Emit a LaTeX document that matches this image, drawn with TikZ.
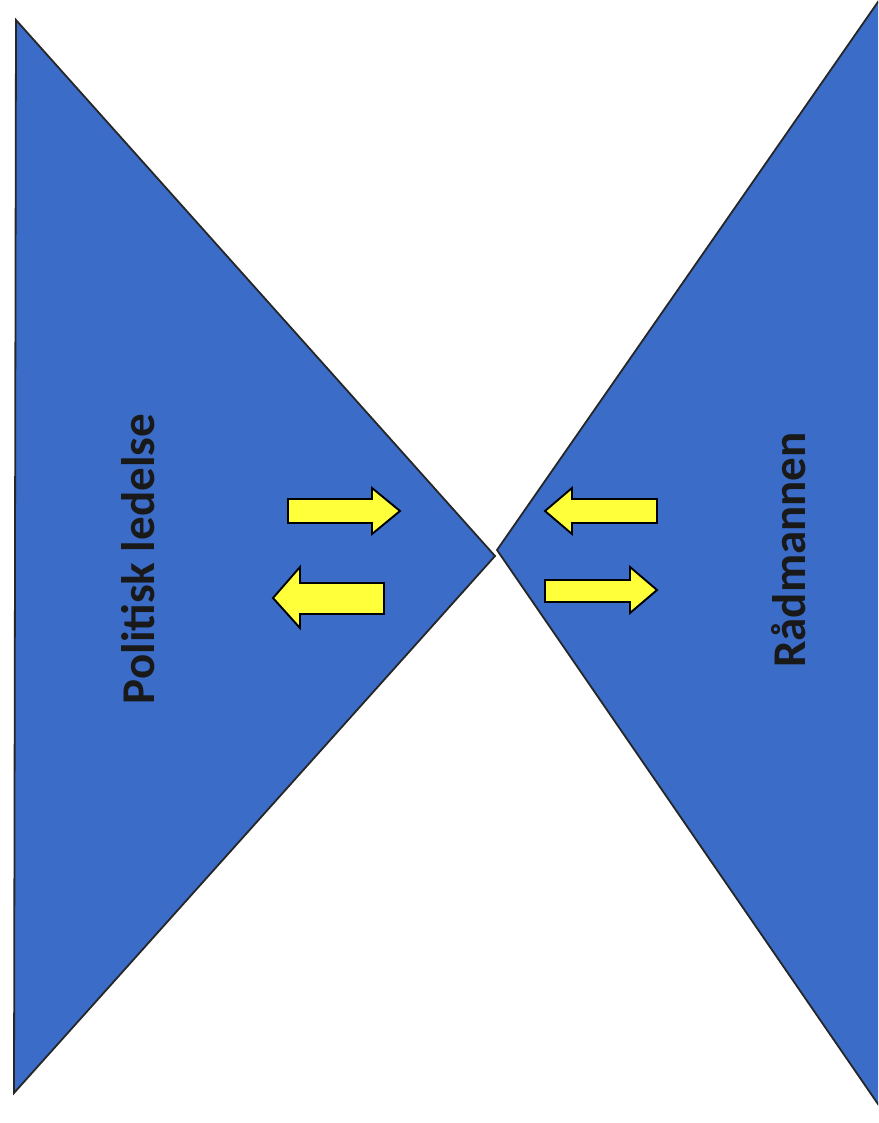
\documentclass[tikz,border=0pt]{standalone}
\usepackage{fontspec}
\setmainfont{Carlito}
\usepackage{tikz}
\usetikzlibrary{positioning}
\definecolor{wingblue}{HTML}{3A6CC8}
\definecolor{arrowyellow}{HTML}{FFFF3A}
\tikzset{
  wing/.style={fill=wingblue, draw=black!85, line width=1.8pt, line join=miter},
  flow/.style={fill=arrowyellow, draw=black, line width=1.9pt, line join=miter},
  label/.style={font=\bfseries\fontsize{47}{50}\selectfont, text=black!90, rotate=90}
}

\begin{document}
\begin{tikzpicture}[x=1pt, y=-1pt]
\useasboundingbox (0,0) rectangle (878,1123);
\fill[white] (0,0) rectangle (878,1123);
\begin{scope}
\clip (0,0) rectangle (878,1123);
% triangles
\coordinate (ltop) at (16,20);
\coordinate (lbot) at (14,1093);
\coordinate (ltip) at (495,556);
\coordinate (rtip) at (497,550);
\coordinate (rtop) at (880,-1);
\coordinate (rbot) at (880,1107);
\draw[wing] (ltop) -- (ltip) -- (lbot) -- cycle;
\draw[wing] (rtip) -- (rtop) -- (885,-1) -- (885,1107) -- (rbot) -- cycle;
\end{scope}
% labels
\node[label] (pol) at (138,559) {Politisk ledelse};
\node[label] (rad) at (789,550) {Rådmannen};
% arrows, left side
\draw[flow] (288,499) -- (372,499) -- (372,488) -- (400,511) -- (372,534) -- (372,523) -- (288,523) -- cycle;
\draw[flow] (384,583) -- (300,583) -- (300,567) -- (273,598) -- (300,628) -- (300,614) -- (384,614) -- cycle;
% arrows, right side
\draw[flow] (657,499) -- (572,499) -- (572,488) -- (545,511) -- (572,534) -- (572,523) -- (657,523) -- cycle;
\draw[flow] (545,580) -- (630,580) -- (630,567) -- (657,590) -- (630,613) -- (630,602) -- (545,602) -- cycle;
\end{tikzpicture}
\end{document}
